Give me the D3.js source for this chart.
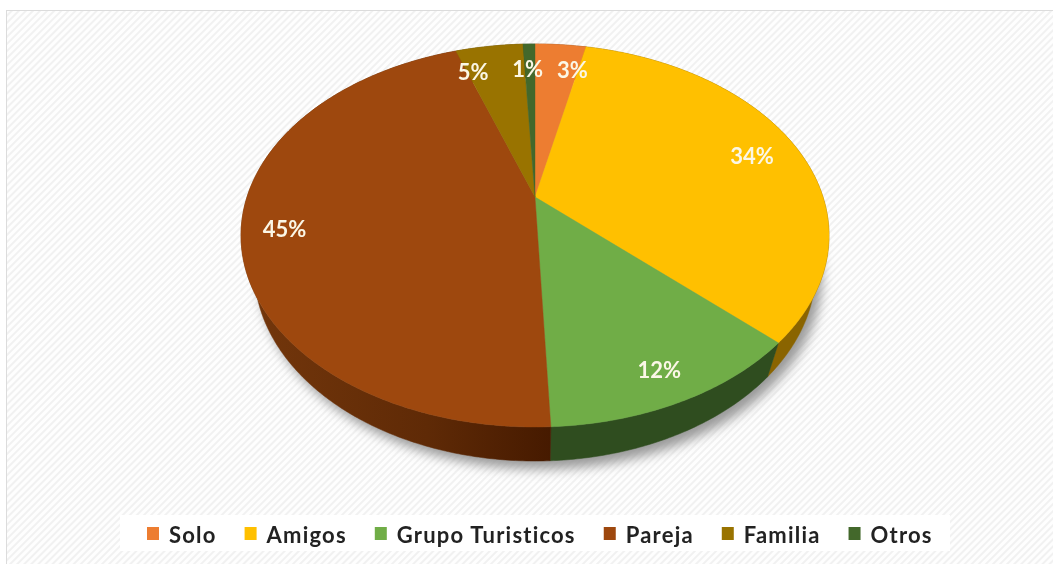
<!DOCTYPE html>
<html><head><meta charset="utf-8">
<script src="https://cdn.jsdelivr.net/npm/d3@7/dist/d3.min.js"></script>
<style>html,body{margin:0;padding:0;background:#fff;overflow:hidden}svg{display:block}</style>
</head><body><svg id="c" width="1053" height="564"></svg>
<script>
const categories = ["Solo","Amigos","Grupo Turisticos","Pareja","Familia","Otros"];
const values = [3.4,33.6,12.3,45.4,4.5,0.8];
const labels = ["3%","34%","12%","45%","5%","1%"];
const colors = ["#ED7D31","#FFC000","#70AD47","#9E480E","#997300","#43682B"];
const sideColors = ["#8a4a1c","#8a6400","#2f4d1f","url(#pareSide)","#5c4500","#28401a"];

const svg = d3.select("#c");
const defs = svg.append("defs");
const hatch = defs.append("pattern").attr("id","hatch").attr("width",5).attr("height",5)
  .attr("patternUnits","userSpaceOnUse").attr("patternTransform","rotate(45)");
hatch.append("rect").attr("width",5).attr("height",5).attr("fill","#fefefe");
hatch.append("rect").attr("width",2).attr("height",5).attr("fill","#f1f1f1");
defs.append("filter").attr("id","blur").attr("x","-20%").attr("y","-20%").attr("width","140%").attr("height","140%")
  .append("feGaussianBlur").attr("stdDeviation",6);
const glow = defs.append("filter").attr("id","soft").attr("x","-20%").attr("y","-20%").attr("width","140%").attr("height","140%");
glow.append("feGaussianBlur").attr("stdDeviation",0.35);
const grad = defs.append("linearGradient").attr("id","pareSide").attr("gradientUnits","userSpaceOnUse")
  .attr("x1",241).attr("x2",551).attr("y1",0).attr("y2",0);
grad.append("stop").attr("offset",0).attr("stop-color","#74370c");
grad.append("stop").attr("offset",0.6).attr("stop-color","#5f2a06");
grad.append("stop").attr("offset",1).attr("stop-color","#461a00");

// frame: only the top and left edges fall inside the picture
svg.append("rect").attr("x",6.5).attr("y",10.5).attr("width",1060).attr("height",570)
  .attr("fill","url(#hatch)").attr("stroke","#dcdcdc").attr("stroke-width",1);

// perspective projection of a unit disc
const cx = 535, cy = 197, a = 288, b = 183.8, p = 0.201, depth = 34, baseScale = 0.955;
const proj = (ang, r = 1) => {
  const u = r * Math.sin(ang), v = r * Math.cos(ang), d = 1 + p * v;
  return [cx + a * u / d, cy - b * v / d];
};
const toBase = q => [cx + (q[0] - cx) * baseScale, q[1] + depth];
const arcs = d3.pie().sort(null).value(d => d)(values);
const rim = (s, e) => {
  const n = Math.max(2, Math.ceil((e - s) / 0.01));
  return d3.range(n + 1).map(i => proj(s + (e - s) * i / n));
};
const line = d3.line();

// drop shadow
svg.append("path")
  .attr("d", line(rim(0, 2 * Math.PI).map(q => { const w = toBase(q); return [w[0] + 6, w[1] + 8]; })) + "Z")
  .attr("fill","#9a9a9a").attr("filter","url(#blur)");

// side wall
arcs.forEach((d, i) => {
  const top = rim(d.startAngle, d.endAngle);
  const bot = top.map(toBase).reverse();
  svg.append("path").attr("d", line(top.concat(bot)) + "Z")
    .attr("fill", sideColors[i]).attr("stroke", sideColors[i]).attr("stroke-width",0.5);
});
// top face
arcs.forEach((d, i) => {
  svg.append("path").attr("d", line([[cx, cy]].concat(rim(d.startAngle, d.endAngle))) + "Z")
    .attr("fill", colors[i]).attr("stroke", colors[i]).attr("stroke-width",0.4);
});

// data labels
const labelRadius = [0.85,0.80,0.87,0.85,0.85,0.85];
const labelNudge = [[15,5],[7,0],[0,0],[-2,1],[-22,6],[-2,5]];
arcs.forEach((d, i) => {
  const q = proj((d.startAngle + d.endAngle) / 2, labelRadius[i]);
  svg.append("text").attr("x", q[0] + labelNudge[i][0]).attr("y", q[1] + labelNudge[i][1])
    .attr("text-anchor","middle").attr("dominant-baseline","central")
    .attr("font-family","Lato, 'Open Sans', sans-serif").attr("font-weight",700).attr("font-size",22)
    .attr("fill","#fbf7e6").attr("filter","url(#soft)").text(labels[i]);
});

// legend
svg.append("rect").attr("x",120).attr("y",515).attr("width",830).attr("height",36).attr("fill","#fff");
let lx = 147;
const itemGap = 28, textOffset = 22;
categories.forEach((c, i) => {
  svg.append("rect").attr("x",lx).attr("y",527).attr("width",12).attr("height",13).attr("fill",colors[i]);
  const t = svg.append("text").attr("x",lx + textOffset).attr("y",534).attr("dominant-baseline","central")
    .attr("font-family","Lato, 'Open Sans', sans-serif").attr("font-weight",700).attr("font-size",22)
    .attr("letter-spacing",1.2)
    .attr("fill","#222").attr("filter","url(#soft)").text(c);
  lx += textOffset + t.node().getComputedTextLength() + itemGap;
});
</script></body></html>
